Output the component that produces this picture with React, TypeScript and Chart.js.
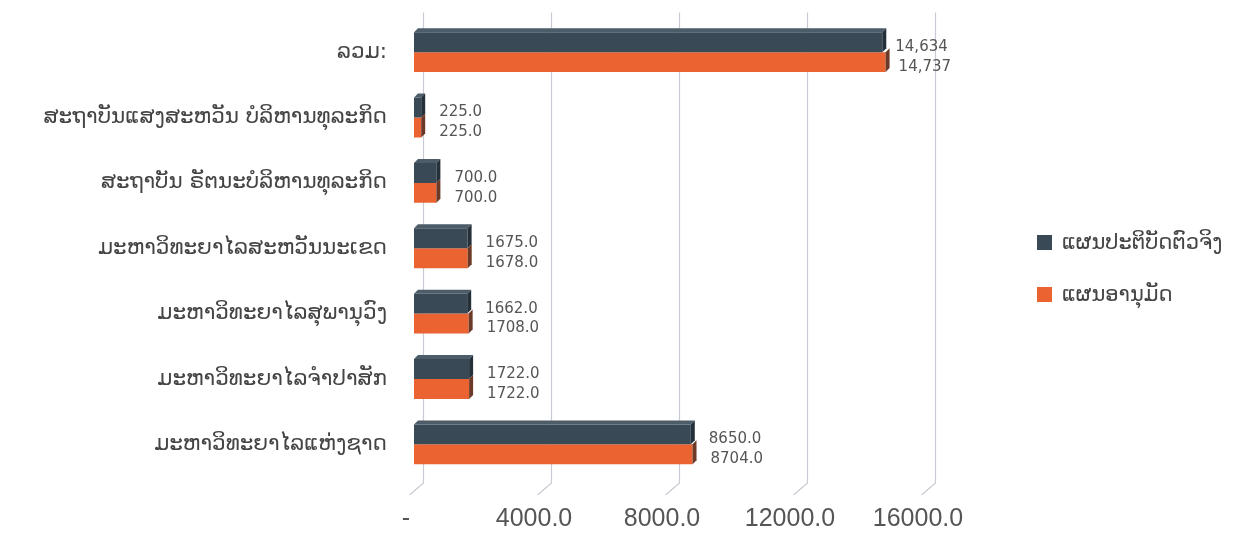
import React, { useEffect, useRef } from "react";
import { Chart, registerables } from "chart.js";

Chart.register(...registerables);

const categories = [
  "ລວມ:",
  "ສະຖາບັນແສງສະຫວັນ ບໍລິຫານທຸລະກິດ",
  "ສະຖາບັນ ຣັຕນະບໍລິຫານທຸລະກິດ",
  "ມະຫາວິທະຍາໄລສະຫວັນນະເຂດ",
  "ມະຫາວິທະຍາໄລສຸພານຸວົງ",
  "ມະຫາວິທະຍາໄລຈຳປາສັກ",
  "ມະຫາວິທະຍາໄລແຫ່ງຊາດ",
];
const seriesNames = ["ແຜນປະຕິບັດຕົວຈິງ", "ແຜນອານຸມັດ"];
const actualValues = [14634, 225, 700, 1675, 1662, 1722, 8650];
const approvedValues = [14737, 225, 700, 1678, 1708, 1722, 8704];
const xTicks = [0, 4000, 8000, 12000, 16000];

const DARK = "#3a4956";
const ORANGE = "#ea6330";
const DARK_SIDE = "#24303a";
const ORANGE_SIDE = "#6e3a28";
const DARK_TOP = "#4c5c69";
const FONT = "'DejaVu Sans', 'Noto Sans', sans-serif";
const NUM_FONT = "'Liberation Sans', 'DejaVu Sans', sans-serif";

const fmtValue = (v: number, idx: number) =>
  idx === 0 ? v.toLocaleString("en-US") : v.toFixed(1);

const gridPlugin = {
  id: "slantGrid",
  beforeDatasetsDraw(chart: any) {
    const { ctx, chartArea, scales } = chart;
    const xs = scales.x;
    ctx.save();
    ctx.strokeStyle = "#c9cad3";
    ctx.lineWidth = 1.2;
    xTicks.forEach((v) => {
      const gx = Math.round(xs.getPixelForValue(v) + 9) + 0.5;
      ctx.beginPath();
      ctx.moveTo(gx, chartArea.top - 7);
      ctx.lineTo(gx, chartArea.bottom + 6);
      ctx.lineTo(gx - 14, chartArea.bottom + 18);
      ctx.stroke();
    });
    ctx.restore();
  },
};

const bar3dPlugin = {
  id: "bar3d",
  afterDatasetsDraw(chart: any) {
    const { ctx } = chart;
    const d = 4;
    ctx.save();
    chart.data.datasets.forEach((ds: any, di: number) => {
      const meta = chart.getDatasetMeta(di);
      meta.data.forEach((bar: any) => {
        const p = bar.getProps(["x", "y", "base", "height"], true);
        const top = p.y - p.height / 2;
        const bottom = p.y + p.height / 2;
        const right = p.x;
        const left = p.base;
        if (di === 0) {
          ctx.fillStyle = DARK_TOP;
          ctx.beginPath();
          ctx.moveTo(left, top);
          ctx.lineTo(left + d, top - d);
          ctx.lineTo(right + d, top - d);
          ctx.lineTo(right, top);
          ctx.closePath();
          ctx.fill();
        }
        ctx.fillStyle = di === 0 ? DARK_SIDE : ORANGE_SIDE;
        ctx.beginPath();
        ctx.moveTo(right, top);
        ctx.lineTo(right + d, top - d);
        ctx.lineTo(right + d, bottom - d);
        ctx.lineTo(right, bottom);
        ctx.closePath();
        ctx.fill();
      });
    });
    ctx.restore();
  },
};

const labelPlugin = {
  id: "valueLabels",
  afterDatasetsDraw(chart: any) {
    const { ctx } = chart;
    ctx.save();
    ctx.font = `15px ${FONT}`;
    ctx.fillStyle = "#555555";
    ctx.textAlign = "left";
    ctx.textBaseline = "middle";
    chart.data.datasets.forEach((ds: any, di: number) => {
      const meta = chart.getDatasetMeta(di);
      meta.data.forEach((bar: any, i: number) => {
        const p = bar.getProps(["x", "y"], true);
        const off = i === 0 ? 13 : 18;
        ctx.fillText(fmtValue(ds.data[i], i), p.x + off, p.y + 5);
      });
    });
    ctx.restore();
  },
};

export default function App() {
  const canvasRef = useRef<HTMLCanvasElement | null>(null);

  useEffect(() => {
    if (!canvasRef.current) return;
    const chart = new Chart(canvasRef.current, {
      type: "bar",
      data: {
        labels: categories,
        datasets: [
          {
            label: seriesNames[0],
            data: actualValues,
            backgroundColor: DARK,
            categoryPercentage: 0.61,
            barPercentage: 1,
          },
          {
            label: seriesNames[1],
            data: approvedValues,
            backgroundColor: ORANGE,
            categoryPercentage: 0.61,
            barPercentage: 1,
          },
        ],
      },
      options: {
        indexAxis: "y",
        animation: false,
        responsive: true,
        maintainAspectRatio: false,
        layout: { padding: { left: 0, right: 321, top: 11.5, bottom: 0 } },
        plugins: {
          legend: { display: false },
          tooltip: { enabled: false },
        },
        scales: {
          x: {
            min: 0,
            max: 16000,
            afterBuildTicks: (s: any) => {
              s.ticks = xTicks.map((v) => ({ value: v }));
            },
            afterFit: (s: any) => {
              s.height = 68;
              s.paddingLeft = 0;
              s.paddingRight = 0;
            },
            grid: { display: false },
            border: { display: false },
            ticks: {
              labelOffset: -8,
              padding: 19,
              color: "#555555",
              font: { family: NUM_FONT, size: 25 },
              callback: (v: any) => (Number(v) === 0 ? "-" : Number(v).toFixed(1)),
            },
          },
          y: {
            afterFit: (s: any) => {
              s.width = 406;
              s.paddingTop = 0;
              s.paddingBottom = 0;
            },
            grid: { display: false },
            border: { display: false },
            ticks: {
              padding: 19,
              color: "#444444",
              font: { family: FONT, size: 21.5 },
            },
          },
        },
      },
      plugins: [gridPlugin, bar3dPlugin, labelPlugin],
    });
    return () => chart.destroy();
  }, []);

  const legendItems = [
    { name: seriesNames[0], color: DARK, top: 222 },
    { name: seriesNames[1], color: ORANGE, top: 274 },
  ];

  return (
    <div style={{ position: "relative", width: 1239, height: 537, background: "#fff" }}>
      <canvas ref={canvasRef} />
      {legendItems.map((it) => (
        <div
          key={it.name}
          style={{
            position: "absolute",
            left: 1029,
            top: it.top,
            display: "flex",
            alignItems: "center",
            fontFamily: FONT,
            fontSize: 21,
            color: "#444",
            whiteSpace: "nowrap",
          }}
        >
          <span
            style={{
              display: "inline-block",
              width: 15,
              height: 15,
              background: it.color,
              marginRight: 10,
            }}
          />
          {it.name}
        </div>
      ))}
    </div>
  );
}
